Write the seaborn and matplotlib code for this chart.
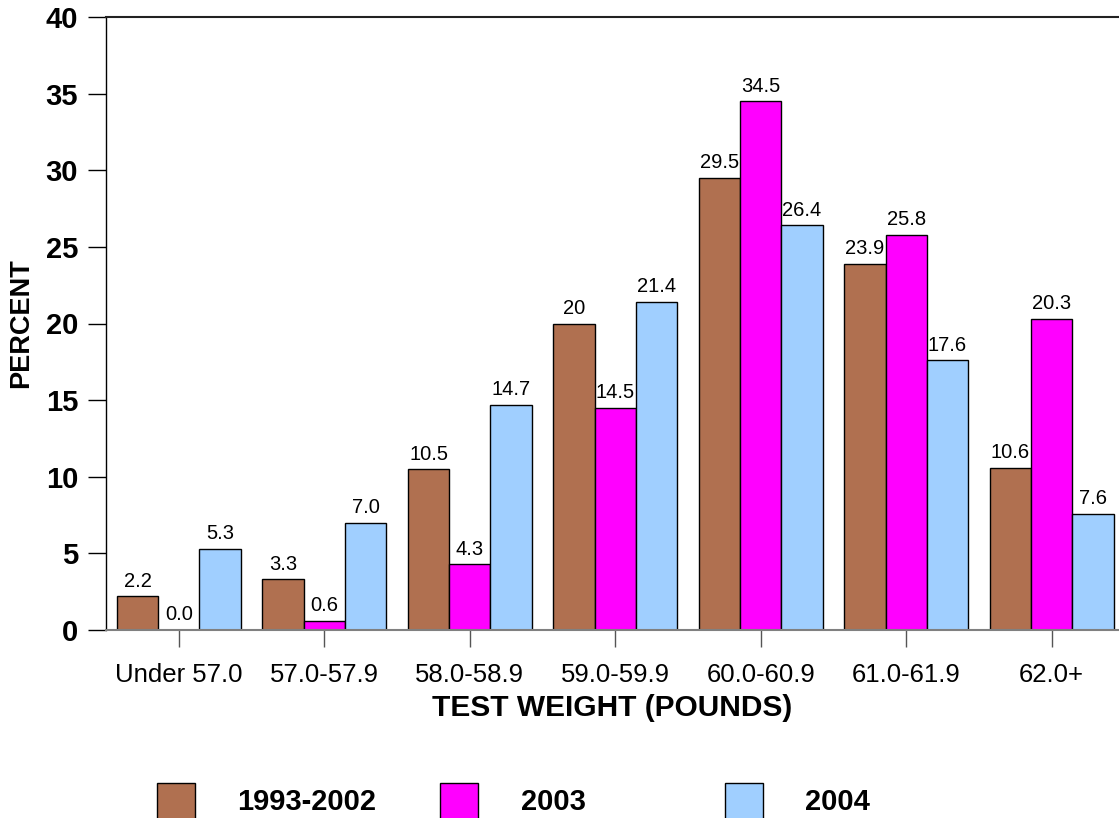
import matplotlib
matplotlib.use("Agg")
import matplotlib.pyplot as plt
import seaborn as sns
import pandas as pd

# Test weight distribution, percent of samples per weight class
categories = ["Under 57.0", "57.0-57.9", "58.0-58.9", "59.0-59.9",
              "60.0-60.9", "61.0-61.9", "62.0+"]
series_names = ["1993-2002", "2003", "2004"]
pct_1993_2002 = [2.2, 3.3, 10.5, 20, 29.5, 23.9, 10.6]
pct_2003 = [0.0, 0.6, 4.3, 14.5, 34.5, 25.8, 20.3]
pct_2004 = [5.3, 7.0, 14.7, 21.4, 26.4, 17.6, 7.6]
y_ticks = [0, 5, 10, 15, 20, 25, 30, 35, 40]
colors = ["#B07050", "#FF00FF", "#A0CFFF"]

series_values = [pct_1993_2002, pct_2003, pct_2004]
df = pd.DataFrame({
    "category": [c for _ in series_names for c in categories],
    "series": [s for s in series_names for _ in categories],
    "percent": [v for vals in series_values for v in vals],
})

sns.set_theme(style="white")
plt.rcParams["font.family"] = ["Liberation Sans", "DejaVu Sans"]
plt.rcParams["text.color"] = "black"
plt.rcParams["xtick.color"] = "black"
plt.rcParams["ytick.color"] = "black"
plt.rcParams["axes.labelcolor"] = "black"

W, H = 1119, 818
fig = plt.figure(figsize=(W / 100, H / 100), dpi=100)
ax = fig.add_axes([106 / W, (H - 630) / H, (W - 106) / W, (630 - 17) / H])

sns.barplot(data=df, x="category", y="percent", hue="series",
            order=categories, hue_order=series_names,
            palette=colors, width=0.85, edgecolor="black", linewidth=1.0,
            saturation=1, legend=False, ax=ax)

# value labels above each bar
for container, vals in zip(ax.containers, series_values):
    ax.bar_label(container, labels=[str(v) for v in vals], padding=4,
                 fontsize=14.5, color="black")

ax.set_ylim(0, 40)
ax.set_yticks(y_ticks)
ax.set_xlim(-0.5, (W - 106) / 145.5 - 0.5)

ax.spines["right"].set_visible(False)
ax.spines["top"].set_visible(True)
ax.spines["top"].set_color("#222222")
ax.spines["top"].set_linewidth(1.5)
ax.spines["left"].set_color("black")
ax.spines["left"].set_linewidth(1.0)
ax.spines["bottom"].set_color("#808080")
ax.spines["bottom"].set_linewidth(1.5)

ax.tick_params(axis="y", direction="out", length=13, width=1.0, color="black",
               labelcolor="black", left=True, pad=7, labelsize=21)
ax.tick_params(axis="x", direction="out", length=12.5, width=1.0, color="#555555",
               labelcolor="black", bottom=True, pad=11, labelsize=18.5)
for lbl in ax.get_yticklabels():
    lbl.set_fontweight("bold")

ax.set_xlabel("TEST WEIGHT (POUNDS)", fontsize=21.5, fontweight="bold",
              labelpad=5.5, color="black")
ax.set_ylabel("PERCENT", fontsize=19.5, fontweight="bold", labelpad=8,
              color="black")

# legend entries spaced evenly along the bottom
legend_x = [157, 440, 725]
for container, name, lx in zip(ax.containers, series_names, legend_x):
    leg = fig.legend([container], [name], loc="upper left",
                     bbox_to_anchor=(lx / W, 1 - 783 / H),
                     bbox_transform=fig.transFigure, frameon=False,
                     borderpad=0, borderaxespad=0, handlelength=1.31,
                     handleheight=1.5, handletextpad=1.45,
                     prop={"size": 21, "weight": "bold"})
    for t in leg.get_texts():
        t.set_color("black")

fig.savefig("out.png", dpi=100)
